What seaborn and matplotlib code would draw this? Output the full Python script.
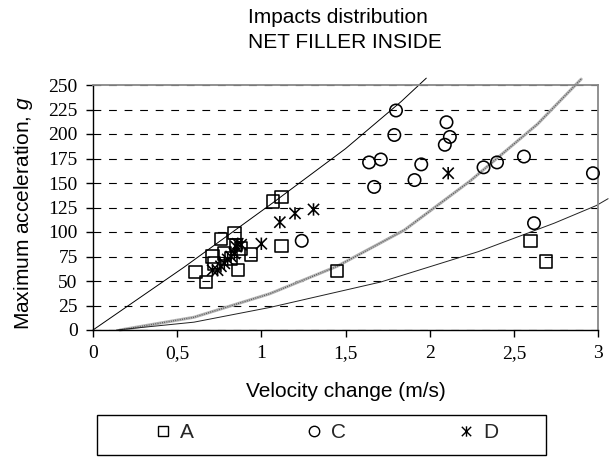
import matplotlib
matplotlib.use("Agg")
import matplotlib.pyplot as plt
from matplotlib.path import Path
from matplotlib.lines import Line2D
from matplotlib.patches import Rectangle
import pandas as pd
import seaborn as sns

# Measured impacts: velocity change (m/s) and peak acceleration (g)
a_vel = [0.61, 0.67, 0.71, 0.72, 0.76, 0.78, 0.82, 0.84, 0.85, 0.86, 0.88, 0.94,
         1.07, 1.12, 1.12, 1.45, 2.60, 2.69]
a_acc = [59, 49, 75, 68, 93, 78, 73, 99, 87, 61, 83, 77,
         131, 136, 86, 60, 91, 70]

c_vel = [1.24, 1.64, 1.67, 1.71, 1.79, 1.80, 1.91, 1.95, 2.09, 2.10, 2.12,
         2.32, 2.40, 2.56, 2.62, 2.97]
c_acc = [91, 171, 146, 174, 199, 224, 153, 169, 189, 212, 197,
         166, 171, 177, 109, 160]

d_vel = [0.71, 0.74, 0.76, 0.78, 0.80, 0.82, 0.84, 0.85, 0.86, 0.88,
         1.00, 1.11, 1.20, 1.31, 2.11]
d_acc = [61, 61, 65, 68, 72, 75, 78, 85, 88, 87,
         88, 110, 119, 123, 160]

# Reference curves
upper_vel = [0.0, 0.54, 1.07, 1.50, 1.83, 1.98]
upper_acc = [0, 64, 130, 185, 233, 257]

middle_vel = [0.16, 0.60, 1.05, 1.45, 1.85, 2.24, 2.64, 2.90]
middle_acc = [0, 13, 37, 65, 102, 152, 210, 256]

lower_vel = [0.14, 0.60, 1.05, 1.71, 2.29, 2.74, 2.99, 3.06]
lower_acc = [0, 8, 23, 49, 80, 109, 127, 134]

x_ticks = [0, 0.5, 1, 1.5, 2, 2.5, 3]
x_tick_labels = ["0", "0,5", "1", "1,5", "2", "2,5", "3"]
y_ticks = [0, 25, 50, 75, 100, 125, 150, 175, 200, 225, 250]
series_names = ["A", "C", "D"]

sns.set_theme(style="ticks")
plt.rcParams["font.family"] = ["Liberation Sans", "DejaVu Sans"]
plt.rcParams["mathtext.fontset"] = "custom"
plt.rcParams["mathtext.it"] = "Liberation Sans:italic"
plt.rcParams["mathtext.rm"] = "Liberation Sans"

W, H = 611, 457
fig = plt.figure(figsize=(W / 100, H / 100), dpi=100)
fig.patch.set_facecolor("white")
ax = fig.add_axes([93 / W, 1 - 330 / H, 505 / W, 245 / H])
ax.set_facecolor("white")

# Asterisk-like marker: X with a vertical bar
star = Path(
    [(0, -1), (0, 1), (-0.9, -0.9), (0.9, 0.9), (-0.9, 0.9), (0.9, -0.9)],
    [Path.MOVETO, Path.LINETO] * 3,
)

# Curves
sns.lineplot(x=upper_vel, y=upper_acc, ax=ax, color="black", lw=0.7,
             sort=False, estimator=None, clip_on=False, zorder=2)
sns.lineplot(x=middle_vel, y=middle_acc, ax=ax, color="#b4b4b4", lw=2.2,
             sort=False, estimator=None, clip_on=False, zorder=2)
sns.lineplot(x=middle_vel, y=middle_acc, ax=ax, color="#454545", lw=0.9,
             linestyle=(0, (0.6, 1.2)), sort=False, estimator=None,
             clip_on=False, zorder=2)
sns.lineplot(x=lower_vel, y=lower_acc, ax=ax, color="#222222", lw=0.7,
             sort=False, estimator=None, clip_on=False, zorder=2)

df = pd.DataFrame({
    "vel": a_vel + c_vel + d_vel,
    "acc": a_acc + c_acc + d_acc,
    "series": ["A"] * len(a_vel) + ["C"] * len(c_vel) + ["D"] * len(d_vel),
})
sns.scatterplot(data=df, x="vel", y="acc", style="series",
                markers={"A": "s", "C": "o", "D": star}, s=80,
                color="black", facecolor="none", edgecolor="black",
                linewidth=1.15, legend=False, ax=ax, zorder=3, clip_on=False)

ax.set_xlim(0, 3)
ax.set_ylim(0, 250)
ax.set_xticks(x_ticks)
ax.set_xticklabels(x_tick_labels, fontfamily="Liberation Serif")
ax.set_yticks(y_ticks)
ax.set_yticklabels([str(v) for v in y_ticks], fontfamily="Liberation Serif")
ax.tick_params(axis="both", direction="out", length=5, width=1,
               color="black", labelsize=14, pad=6, labelcolor="black",
               bottom=True, left=True)

ax.set_axisbelow(True)
ax.yaxis.grid(True, color="black", linestyle=(0, (7, 7)), lw=0.8)
ax.xaxis.grid(False)

for side in ["top", "right"]:
    ax.spines[side].set_visible(True)
    ax.spines[side].set_color("#888888")
    ax.spines[side].set_linewidth(1.3)
for side in ["left", "bottom"]:
    ax.spines[side].set_color("black")
    ax.spines[side].set_linewidth(1.0)

ax.set_xlabel("Velocity change (m/s)", fontsize=15, color="black")
ax.xaxis.set_label_coords(0.5, -0.212)
ax.set_ylabel(r"Maximum acceleration, $g$", fontsize=15, color="black")
ax.yaxis.set_label_coords(-0.115, 0.478)

fig.text(248 / W, 1 - 23 / H, "Impacts distribution", fontsize=15,
         ha="left", va="baseline", color="black")
fig.text(248 / W, 1 - 48 / H, "NET FILLER INSIDE", fontsize=15,
         ha="left", va="baseline", color="black")

# Legend below the chart
handle_markers = {"A": "s", "C": "o", "D": star}
handles = [Line2D([], [], ls="none", marker=handle_markers[n], ms=7.5,
                  mfc="none", mec="black", mew=1.0) for n in series_names]
fig.legend(handles, series_names, ncol=3, mode="expand", loc="center",
           bbox_to_anchor=(157 / W, 1 - 445 / H, (498 - 157) / W, 24 / H),
           frameon=False, fontsize=15, handlelength=0.6, handletextpad=0.5,
           borderpad=0, borderaxespad=0)
fig.patches.append(Rectangle((97 / W, 2 / H), 449 / W, 40 / H,
                             transform=fig.transFigure, fill=False,
                             edgecolor="black", lw=1.0))

fig.savefig("out.png", dpi=100)
